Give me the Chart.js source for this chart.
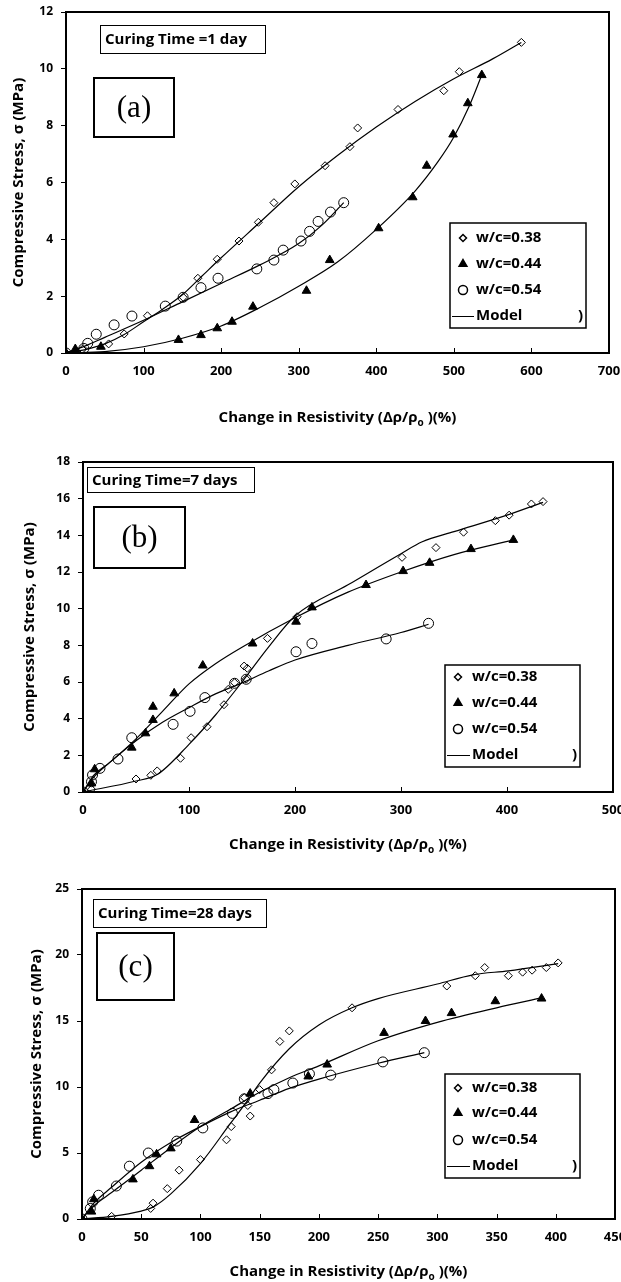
<!DOCTYPE html>
<html>
<head>
<meta charset="utf-8">
<script src="https://cdn.jsdelivr.net/npm/chart.js@4"></script>
<style>
  body { margin: 0; background: #fff; width: 621px; height: 1282px; overflow: hidden; position: relative; }
  .panel { position: absolute; left: 0; width: 621px; }
</style>
</head>
<body>
<div class="panel" style="top:0;height:440px"><canvas id="chartA" width="621" height="440"></canvas></div>
<div class="panel" style="top:440px;height:420px"><canvas id="chartB" width="621" height="420"></canvas></div>
<div class="panel" style="top:860px;height:422px"><canvas id="chartC" width="621" height="422"></canvas></div>
<script>
// ---- (a) curing time 1 day ----
const xA38 = [0, 21, 55, 75, 105, 151, 170, 195, 223, 248, 268, 295, 334, 366, 376, 428, 487, 507, 587];
const yA38 = [0, 0.13, 0.32, 0.67, 1.31, 1.96, 2.63, 3.3, 3.94, 4.6, 5.29, 5.95, 6.59, 7.26, 7.92, 8.57, 9.23, 9.9, 10.93];
const xA44 = [0, 12, 45, 145, 174, 195, 214, 241, 310, 340, 403, 447, 465, 499, 518, 536];
const yA44 = [0, 0.14, 0.22, 0.46, 0.63, 0.87, 1.1, 1.63, 2.19, 3.27, 4.39, 5.48, 6.59, 7.69, 8.79, 9.78];
const xA54 = [0, 23, 28, 39, 62, 85, 128, 151, 174, 196, 246, 268, 280, 303, 314, 325, 341, 358];
const yA54 = [0, 0.16, 0.34, 0.66, 0.99, 1.3, 1.65, 1.96, 2.3, 2.63, 2.96, 3.27, 3.62, 3.94, 4.28, 4.63, 4.96, 5.29];
const mxA38 = [0, 25, 50, 75, 100, 125, 150, 175, 200, 250, 300, 350, 400, 450, 500, 550, 587];
const myA38 = [0, 0.12, 0.32, 0.65, 1.1, 1.55, 2.05, 2.7, 3.35, 4.6, 5.85, 6.95, 7.95, 8.85, 9.65, 10.35, 10.93];
const mxA44 = [0, 50, 100, 150, 200, 250, 300, 350, 400, 450, 480, 500, 520, 536];
const myA44 = [0, 0.05, 0.22, 0.52, 0.95, 1.6, 2.35, 3.2, 4.35, 5.7, 6.75, 7.6, 8.7, 9.78];
const mxA54 = [0, 25, 50, 100, 150, 200, 250, 300, 330, 358];
const myA54 = [0, 0.25, 0.55, 1.15, 1.8, 2.45, 3.1, 3.85, 4.5, 5.29];

// ---- (b) curing time 7 days ----
const xB38 = [0, 8, 50, 64, 70, 92, 102, 117, 133, 137, 143, 152, 154, 155, 174, 202, 301, 333, 359, 389, 402, 423, 434];
const yB38 = [0, 0.15, 0.71, 0.91, 1.15, 1.84, 2.96, 3.56, 4.76, 5.6, 5.96, 6.87, 6.16, 6.75, 8.38, 9.56, 12.8, 13.33, 14.17, 14.8, 15.1, 15.71, 15.84];
const xB44 = [0, 8, 11, 46, 59, 66, 66, 86, 113, 160, 201, 216, 267, 302, 327, 366, 406];
const yB44 = [0, 0.47, 1.24, 2.42, 3.2, 3.93, 4.65, 5.38, 6.9, 8.1, 9.29, 10.07, 11.29, 12.05, 12.5, 13.25, 13.75];
const xB54 = [0, 8, 9, 16, 33, 46, 85, 101, 115, 143, 154, 201, 216, 286, 326];
const yB54 = [0, 0.56, 0.93, 1.29, 1.8, 2.96, 3.69, 4.4, 5.15, 5.93, 6.15, 7.65, 8.1, 8.35, 9.2];
const mxB38 = [0, 50, 70, 100, 125, 150, 175, 200, 250, 300, 320, 350, 400, 434];
const myB38 = [0, 0.6, 0.95, 2.6, 4.2, 6.0, 7.9, 9.6, 11.3, 13.0, 13.65, 14.2, 15.1, 15.8];
const mxB44 = [0, 10, 25, 50, 75, 100, 125, 150, 200, 250, 300, 350, 406];
const myB44 = [0, 0.9, 1.6, 2.9, 4.4, 5.9, 7.0, 7.9, 9.5, 10.9, 12.0, 12.95, 13.75];
const mxB54 = [0, 10, 25, 50, 75, 100, 125, 150, 175, 200, 250, 300, 326];
const myB54 = [0, 0.8, 1.6, 2.8, 3.8, 4.6, 5.35, 5.95, 6.6, 7.2, 8.0, 8.7, 9.15];

// ---- (c) curing time 28 days ----
const xC38 = [0, 25, 58, 60, 72, 82, 100, 122, 126, 137, 140, 142, 150, 160, 167, 175, 228, 308, 332, 340, 360, 372, 380, 392, 402];
const yC38 = [0, 0.2, 0.8, 1.2, 2.3, 3.7, 4.5, 6.0, 7.0, 9.2, 8.6, 7.8, 9.8, 11.3, 13.45, 14.25, 16.0, 17.65, 18.43, 19.05, 18.43, 18.7, 18.85, 19.05, 19.4];
const xC44 = [0, 8, 10, 43, 57, 63, 75, 95, 142, 191, 207, 255, 290, 312, 349, 388];
const yC44 = [0, 0.56, 1.5, 3.0, 4.0, 4.9, 5.35, 7.5, 9.5, 10.8, 11.7, 14.1, 15.0, 15.6, 16.5, 16.7];
const xC54 = [0, 7, 9, 14, 29, 40, 56, 80, 102, 127, 137, 157, 162, 178, 192, 210, 254, 289];
const yC54 = [0, 0.8, 1.3, 1.8, 2.5, 4.0, 5.0, 5.9, 6.9, 8.0, 9.1, 9.5, 9.8, 10.3, 11.0, 10.9, 11.9, 12.6];
const mxC38 = [0, 25, 50, 60, 75, 100, 125, 140, 150, 175, 200, 228, 250, 300, 330, 360, 402];
const myC38 = [0, 0.2, 0.6, 0.9, 1.9, 4.2, 7.2, 9.0, 10.3, 12.9, 14.7, 16.0, 16.7, 17.8, 18.5, 18.8, 19.35];
const mxC44 = [0, 10, 25, 50, 75, 100, 125, 150, 175, 200, 250, 300, 350, 388];
const myC44 = [0, 1.0, 2.0, 3.7, 5.4, 7.0, 8.3, 9.6, 10.7, 11.6, 13.5, 14.9, 16.0, 16.75];
const mxC54 = [0, 10, 25, 50, 75, 100, 125, 150, 175, 200, 250, 289];
const myC54 = [0, 1.2, 2.4, 4.3, 5.8, 7.0, 8.1, 9.0, 9.9, 10.6, 11.8, 12.6];

const seriesLabels = ['w/c=0.38', 'w/c=0.44', 'w/c=0.54'];
const modelLabel = 'Model';

const FONT = "'Open Sans', 'Liberation Sans', sans-serif";
const markers = [
  {pointStyle: 'rectRot', radius: 4, fill: 'rgba(0,0,0,0)'},
  {pointStyle: 'triangle', radius: 5, fill: '#000'},
  {pointStyle: 'circle', radius: 5, fill: 'rgba(0,0,0,0)'}
];

function pts(xs, ys) {
  return xs.map((x, i) => ({x: x, y: ys[i]}));
}

const decor = {
  id: 'decor',
  afterDraw(chart, args, o) {
    const ctx = chart.ctx;
    const a = chart.chartArea;
    const xs = chart.scales.x;
    ctx.save();
    ctx.strokeStyle = '#000';
    ctx.fillStyle = '#000';

    // inner tick marks on x axis
    ctx.lineWidth = 1;
    xs.ticks.forEach(t => {
      const px = Math.round(xs.getPixelForValue(t.value)) + 0.5;
      ctx.beginPath();
      ctx.moveTo(px, a.bottom);
      ctx.lineTo(px, a.bottom - 5);
      ctx.stroke();
    });

    // frame
    ctx.lineWidth = 2;
    ctx.strokeRect(a.left, a.top, a.right - a.left, a.bottom - a.top);

    // curing time box
    const c = o.curing;
    ctx.lineWidth = 1;
    ctx.fillStyle = '#fff';
    ctx.fillRect(c.x1, c.y1, c.x2 - c.x1, c.y2 - c.y1);
    ctx.strokeRect(c.x1 + 0.5, c.y1 + 0.5, c.x2 - c.x1, c.y2 - c.y1);
    ctx.fillStyle = '#000';
    ctx.font = 'bold 15px ' + FONT;
    ctx.textBaseline = 'middle';
    ctx.textAlign = 'left';
    ctx.fillText(c.text, c.x1 + 5, (c.y1 + c.y2) / 2 + 1);

    // panel letter box
    const p = o.panel;
    ctx.lineWidth = 2;
    ctx.strokeRect(p.x1, p.y1, p.x2 - p.x1, p.y2 - p.y1);
    ctx.font = "31px 'Liberation Serif', 'DejaVu Serif', serif";
    ctx.textAlign = 'center';
    ctx.fillText(p.text, (p.x1 + p.x2) / 2, (p.y1 + p.y2) / 2 + 1);

    // legend
    const L = o.legend;
    ctx.fillStyle = '#fff';
    ctx.fillRect(L.x1, L.y1, L.x2 - L.x1, L.y2 - L.y1);
    ctx.lineWidth = 1.5;
    ctx.strokeRect(L.x1, L.y1, L.x2 - L.x1, L.y2 - L.y1);
    ctx.font = 'bold 15px ' + FONT;
    ctx.textAlign = 'left';
    seriesLabels.forEach((lab, i) => {
      const m = markers[i];
      const y = L.rows[i];
      ctx.fillStyle = m.fill;
      ctx.strokeStyle = '#000';
      Chart.helpers.drawPoint(ctx, {pointStyle: m.pointStyle, radius: m.radius - 0.5, rotation: 0, borderWidth: 1}, L.mx, y);
      ctx.fillStyle = '#000';
      ctx.fillText(lab, L.tx, y);
    });
    const ym = L.rows[3];
    ctx.lineWidth = 1;
    ctx.beginPath();
    ctx.moveTo(L.x1 + 2, ym + 0.5);
    ctx.lineTo(L.tx - 2, ym + 0.5);
    ctx.stroke();
    ctx.fillText(modelLabel, L.tx, ym);
    ctx.textAlign = 'right';
    ctx.fillText(')', L.x2 - 3, ym);

    // x axis title with subscript
    ctx.textAlign = 'left';
    const part1 = 'Change in Resistivity (\u0394\u03c1/\u03c1';
    const sub = 'o';
    const part2 = ' )(%)';
    ctx.font = 'bold 15px ' + FONT;
    const w1 = ctx.measureText(part1).width;
    const w3 = ctx.measureText(part2).width;
    ctx.font = 'bold 10px ' + FONT;
    const w2 = ctx.measureText(sub).width;
    const x0 = (a.left + a.right) / 2 - (w1 + w2 + w3) / 2;
    const ty = o.xTitleY;
    ctx.font = 'bold 15px ' + FONT;
    ctx.fillText(part1, x0, ty);
    ctx.font = 'bold 10px ' + FONT;
    ctx.fillText(sub, x0 + w1, ty + 5);
    ctx.font = 'bold 15px ' + FONT;
    ctx.fillText(part2, x0 + w1 + w2, ty);
    ctx.restore();
  }
};

function makeChart(id, cfg) {
  const datasets = [];
  cfg.series.forEach((s, i) => {
    datasets.push({
      label: 'Model ' + seriesLabels[i],
      data: pts(s.mx, s.my),
      showLine: true,
      borderColor: '#000',
      borderWidth: 1.2,
      pointRadius: 0,
      cubicInterpolationMode: 'monotone'
    });
  });
  cfg.series.forEach((s, i) => {
    datasets.push({
      label: seriesLabels[i],
      data: pts(s.x, s.y),
      showLine: false,
      pointStyle: markers[i].pointStyle,
      pointRadius: markers[i].radius,
      pointBackgroundColor: markers[i].fill,
      pointBorderColor: '#000',
      pointBorderWidth: 1
    });
  });

  new Chart(document.getElementById(id), {
    type: 'scatter',
    data: {datasets: datasets},
    plugins: [decor],
    options: {
      responsive: false,
      animation: false,
      devicePixelRatio: 1,
      layout: {padding: {left: 0, top: cfg.top, right: cfg.right, bottom: 0}},
      plugins: {
        legend: {display: false},
        tooltip: {enabled: false},
        decor: cfg.decor
      },
      scales: {
        x: {
          type: 'linear',
          min: 0, max: cfg.xMax,
          ticks: {stepSize: cfg.xStep, color: '#000', padding: 10, font: {family: FONT, size: 13, weight: 'bold'}},
          grid: {display: false, drawTicks: false},
          border: {display: false},
          afterFit(scale) {
            scale.height = cfg.xHeight;
            scale.paddingLeft = 0;
            scale.paddingRight = 0;
          }
        },
        y: {
          type: 'linear',
          min: 0, max: cfg.yMax,
          ticks: {stepSize: cfg.yStep, color: '#000', padding: 8, font: {family: FONT, size: 12, weight: 'bold'}},
          grid: {drawOnChartArea: false, drawTicks: true, tickLength: 5, color: '#000'},
          border: {display: false},
          title: {
            display: true,
            text: 'Compressive Stress, \u03c3 (MPa)',
            color: '#000',
            font: {family: FONT, size: 15, weight: 'bold'},
            padding: {top: cfg.yTitlePad, bottom: 0}
          },
          afterFit(scale) {
            scale.width = cfg.yWidth;
            scale.paddingTop = 0;
            scale.paddingBottom = 0;
          }
        }
      }
    }
  });
}

makeChart('chartA', {
  series: [
    {x: xA38, y: yA38, mx: mxA38, my: myA38},
    {x: xA44, y: yA44, mx: mxA44, my: myA44},
    {x: xA54, y: yA54, mx: mxA54, my: myA54}
  ],
  xMax: 700, xStep: 100, yMax: 12, yStep: 2,
  top: 12, right: 12, yWidth: 66, xHeight: 440 - 353, yTitlePad: 10,
  decor: {
    curing: {x1: 100, y1: 25, x2: 265, y2: 53, text: 'Curing Time =1 day'},
    panel: {x1: 94, y1: 78, x2: 174, y2: 137, text: '(a)'},
    legend: {x1: 450, y1: 223, x2: 586, y2: 328, rows: [238, 264, 290, 316], mx: 463, tx: 476},
    xTitleY: 418
  }
});

makeChart('chartB', {
  series: [
    {x: xB38, y: yB38, mx: mxB38, my: myB38},
    {x: xB44, y: yB44, mx: mxB44, my: myB44},
    {x: xB54, y: yB54, mx: mxB54, my: myB54}
  ],
  xMax: 500, xStep: 100, yMax: 18, yStep: 2,
  top: 22, right: 8, yWidth: 83, xHeight: 420 - 352, yTitlePad: 21,
  decor: {
    curing: {x1: 87, y1: 27, x2: 254, y2: 52, text: 'Curing Time=7 days'},
    panel: {x1: 94, y1: 67, x2: 185, y2: 128, text: '(b)'},
    legend: {x1: 445, y1: 225, x2: 580, y2: 327, rows: [237, 263, 289, 315], mx: 458, tx: 472},
    xTitleY: 405
  }
});

makeChart('chartC', {
  series: [
    {x: xC38, y: yC38, mx: mxC38, my: myC38},
    {x: xC44, y: yC44, mx: mxC44, my: myC44},
    {x: xC54, y: yC54, mx: mxC54, my: myC54}
  ],
  xMax: 450, xStep: 50, yMax: 25, yStep: 5,
  top: 29, right: 6, yWidth: 82, xHeight: 422 - 359, yTitlePad: 28,
  decor: {
    curing: {x1: 93, y1: 39, x2: 266, y2: 67, text: 'Curing Time=28 days'},
    panel: {x1: 97, y1: 73, x2: 174, y2: 140, text: '(c)'},
    legend: {x1: 445, y1: 214, x2: 580, y2: 318, rows: [228, 253, 280, 306], mx: 458, tx: 472},
    xTitleY: 412
  }
});
</script>
</body>
</html>
